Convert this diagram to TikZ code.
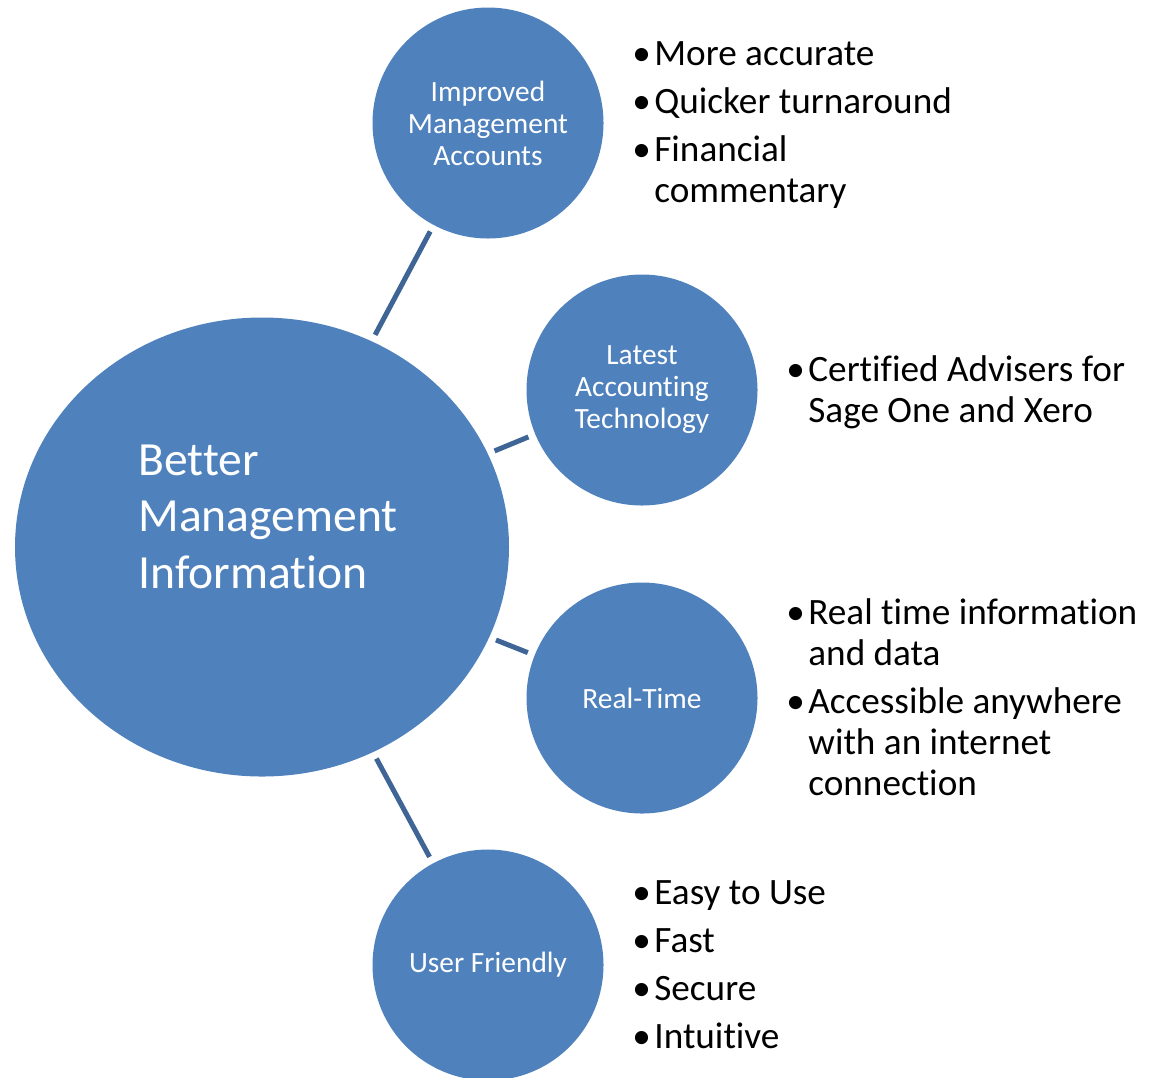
\documentclass[tikz,border=0pt]{standalone}
\usepackage{fontspec}
\setmainfont{Carlito}[Ligatures={NoCommon}]
\usetikzlibrary{shapes.geometric}
\definecolor{bubble}{HTML}{4F81BD}
\definecolor{linkblue}{RGB}{62,101,150}
\newcommand{\bl}{\makebox[11pt][l]{\textbullet}}

\begin{document}
\begin{tikzpicture}[
    x=0.5pt, y=-0.5pt,
    hub/.style={ellipse, fill=bubble, minimum width=247pt, minimum height=229.5pt, inner sep=0pt},
    spoke/.style={circle, fill=bubble, minimum size=115.5pt, inner sep=0pt, text=white, align=center, font=\fontsize{14.7}{16}\selectfont},
    hubtext/.style={text=white, anchor=base west, inner sep=0pt, font=\fontsize{23.8}{28.25}\selectfont},
    points/.style={anchor=base west, inner sep=0pt, font=\fontsize{18.6}{20.5}\selectfont},
    link/.style={draw=linkblue, line width=2.5pt, shorten <=3.5pt, shorten >=3.5pt}
]
    \useasboundingbox (0,0) rectangle (1149,1077);
    \clip (0,0) rectangle (1149,1077);

    % centre and the four topics
    \node[hub] (hub) at (262,547) {};
    \node[hubtext] (hublabel) at (138,475) {\begin{tabular}[t]{@{}l@{}}Better\\ Management\\ Information\end{tabular}};
    \node[spoke] (accounts) at (488,123) {Improved\\ Management\\ Accounts};
    \node[spoke] (tech) at (642,390) {Latest\\ Accounting\\ Technology};
    \node[spoke] (realtime) at (642,698) {Real-Time};
    \node[spoke] (friendly) at (488,965) {User Friendly};

    \draw[link] (hub) -- (accounts);
    \draw[link] (hub) -- (tech);
    \draw[link] (hub) -- (realtime);
    \draw[link] (hub) -- (friendly);

    % bullet points
    \node[points] (accountspts) at (632,65) {\begin{tabular}[t]{@{}l@{}}\bl More accurate\\[3.5pt] \bl Quicker turnaround\\[3.5pt] \bl Financial\\ \hspace{11pt}commentary\end{tabular}};
    \node[points] (techpts) at (786,381) {\begin{tabular}[t]{@{}l@{}}\bl Certified Advisers for\\ \hspace{11pt}Sage One and Xero\end{tabular}};
    \node[points] (realtimepts) at (786,624) {\begin{tabular}[t]{@{}l@{}}\bl Real time information\\ \hspace{11pt}and data\\[3.5pt] \bl Accessible anywhere\\ \hspace{11pt}with an internet\\ \hspace{11pt}connection\end{tabular}};
    \node[points] (friendlypts) at (632,904) {\begin{tabular}[t]{@{}l@{}}\bl Easy to Use\\[3.5pt] \bl Fast\\[3.5pt] \bl Secure\\[3.5pt] \bl Intuitive\end{tabular}};
\end{tikzpicture}
\end{document}
